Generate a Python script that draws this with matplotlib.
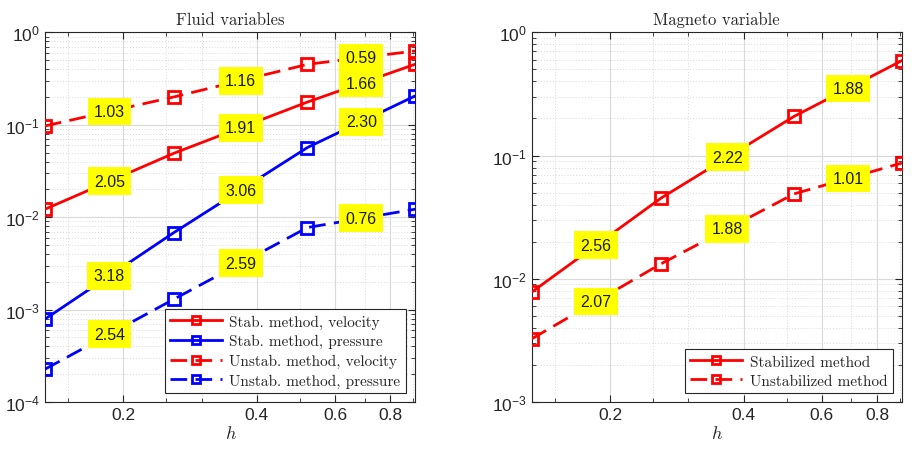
import numpy as np
import matplotlib
matplotlib.use("Agg")
import matplotlib.pyplot as plt
from matplotlib.ticker import FixedLocator, NullFormatter, LogLocator

# mesh sizes
h = [0.133, 0.26, 0.52, 0.91]

# fluid errors
stab_vel = [0.0122, 0.0492, 0.176, 0.451]
stab_pres = [7.9e-4, 6.83e-3, 0.0567, 0.205]
unstab_vel = [0.097, 0.20, 0.45, 0.628]
unstab_pres = [2.27e-4, 1.30e-3, 7.73e-3, 0.0122]

# magneto errors
mag_stab = [7.8e-3, 0.045, 0.208, 0.589]
mag_unstab = [3.26e-3, 0.0132, 0.0489, 0.087]

# convergence rates printed in the yellow boxes
rates_stab_vel = ["2.05", "1.91", "1.66"]
rates_stab_pres = ["3.18", "3.06", "2.30"]
rates_unstab_vel = ["1.03", "1.16", "0.59"]
rates_unstab_pres = ["2.54", "2.59", "0.76"]
rates_mag_stab = ["2.56", "2.22", "1.88"]
rates_mag_unstab = ["2.07", "1.88", "1.01"]

plt.rcParams['font.family'] = ['Liberation Sans', 'DejaVu Sans']
plt.rcParams['mathtext.fontset'] = 'custom'
plt.rcParams['mathtext.rm'] = 'Liberation Sans'
plt.rcParams['mathtext.it'] = 'Liberation Sans:italic'
plt.rcParams['mathtext.default'] = 'regular'

DASH = (0, (6, 3))
TXT = '#262626'


def series(ax, y, color, style, label, rates):
    ax.plot(h, y, color=color, linestyle=style, lw=2, marker='s', ms=8.5,
            mfc='none', mec=color, mew=2, label=label, zorder=3)
    for i, r in enumerate(rates):
        xm = np.sqrt(h[i] * h[i + 1])
        ym = np.sqrt(y[i] * y[i + 1])
        ax.text(xm, ym, r, ha='center', va='center', fontsize=11.5, color='#1a1a1a',
                bbox=dict(boxstyle='square,pad=0.4', fc='#ffff00', ec='none'), zorder=4)


def style_axes(ax, ylim, title):
    ax.set_xscale('log')
    ax.set_yscale('log')
    ax.set_xlim(h[0], h[-1])
    ax.set_ylim(*ylim)
    ax.xaxis.set_major_locator(FixedLocator([0.2, 0.4, 0.6, 0.8]))
    ax.xaxis.set_major_formatter(matplotlib.ticker.FixedFormatter(['0.2', '0.4', '0.6', '0.8']))
    ax.xaxis.set_minor_locator(FixedLocator([0.15, 0.25, 0.3, 0.5, 0.7, 0.9]))
    ax.xaxis.set_minor_formatter(NullFormatter())
    ax.yaxis.set_major_locator(LogLocator(base=10, numticks=10))
    ax.yaxis.set_minor_locator(LogLocator(base=10, subs=np.arange(2, 10), numticks=10))
    ax.yaxis.set_minor_formatter(NullFormatter())
    ax.grid(True, which='major', color='#d9d9d9', lw=0.8, zorder=0)
    ax.grid(True, which='minor', color='#d9d9d9', lw=0.7, linestyle=(0, (1, 2)), zorder=0)
    ax.tick_params(which='both', direction='in', top=True, right=True, colors=TXT,
                   labelsize=12.5)
    ax.tick_params(which='major', length=5)
    ax.tick_params(which='minor', length=3)
    for s in ax.spines.values():
        s.set_color(TXT)
        s.set_linewidth(0.8)
    ax.set_title(title, family='cmr10', fontsize=12, color=TXT, pad=6)
    ax.set_xlabel('h', family='cmmi10', fontsize=13, color=TXT, labelpad=2)


fig = plt.figure(figsize=(9.14, 4.56), dpi=100)
ax1 = fig.add_axes([0.0492, 0.116, 0.405, 0.811])
ax2 = fig.add_axes([0.5817, 0.116, 0.405, 0.811])

series(ax1, stab_vel, 'red', '-', 'Stab. method, velocity', rates_stab_vel)
series(ax1, stab_pres, 'blue', '-', 'Stab. method, pressure', rates_stab_pres)
series(ax1, unstab_vel, 'red', DASH, 'Unstab. method, velocity', rates_unstab_vel)
series(ax1, unstab_pres, 'blue', DASH, 'Unstab. method, pressure', rates_unstab_pres)
style_axes(ax1, (1e-4, 1), 'Fluid variables')

series(ax2, mag_stab, 'red', '-', 'Stabilized method', rates_mag_stab)
series(ax2, mag_unstab, 'red', DASH, 'Unstabilized method', rates_mag_unstab)
style_axes(ax2, (1e-3, 1), 'Magneto variable')

for ax in (ax1, ax2):
    leg = ax.legend(loc='lower right', prop={'family': 'cmr10', 'size': 11},
                    fancybox=False, framealpha=1, edgecolor=TXT, handlelength=3.4,
                    markerscale=0.75, borderaxespad=0.6, labelspacing=0.35,
                    borderpad=0.35, handletextpad=0.5)
    leg.get_frame().set_linewidth(0.8)
    for t in leg.get_texts():
        t.set_color(TXT)

fig.savefig('out.png', dpi=100)
